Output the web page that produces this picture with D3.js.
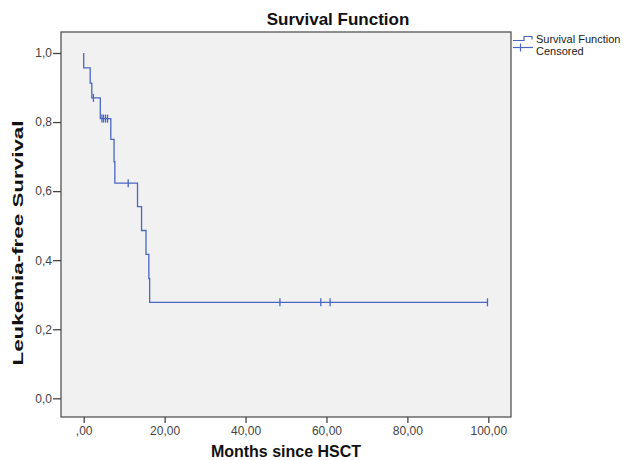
<!DOCTYPE html>
<html>
<head>
<meta charset="utf-8">
<script src="https://cdn.jsdelivr.net/npm/d3@7"></script>
<style>
  body { margin: 0; background: #fff; }
  svg { display: block; font-family: "Liberation Sans", Arial, sans-serif; }
</style>
</head>
<body>
<div id="chart"></div>
<script>
// step times (months) and survival after each step
var stepTimes    = [0, 0, 1.6, 2.0, 4.1, 6.7, 7.5, 7.7, 13.3, 14.3, 15.4, 16.1, 16.3];
var stepSurvival = [1.0, 0.957, 0.913, 0.870, 0.810, 0.750, 0.685, 0.623, 0.555, 0.486, 0.417, 0.347, 0.278];
var lastTime = 99.8;

// censored observations
var censorTimes = [2.4, 4.5, 4.9, 5.4, 5.9, 11.0, 48.5, 58.6, 60.9, 99.8];

var xTicks = [0, 20, 40, 60, 80, 100];
var yTicks = [0, 0.2, 0.4, 0.6, 0.8, 1.0];

var width = 625, height = 460;
var frame = {left: 61, right: 511, top: 32, bottom: 417};
var lineColor = "#4a66c4";

var svg = d3.select("#chart")
  .append("svg")
    .attr("width", width)
    .attr("height", height);

var x = d3.scaleLinear().domain([0, 100]).range([83.7, 488.3]);
var y = d3.scaleLinear().domain([0, 1]).range([398.3, 53]);

// plot background + frame
svg.append("rect")
  .attr("x", frame.left)
  .attr("y", frame.top)
  .attr("width", frame.right - frame.left)
  .attr("height", frame.bottom - frame.top)
  .attr("fill", "#f1f1f1")
  .attr("stroke", "#555")
  .attr("stroke-width", 1.3);

// axes
var fmtX = function(d) { return d === 0 ? ",00" : d + ",00"; };
var fmtY = function(d) { return d3.format(".1f")(d).replace(".", ","); };

var xAxis = svg.append("g")
  .attr("transform", "translate(0," + frame.bottom + ")")
  .call(d3.axisBottom(x).tickValues(xTicks).tickFormat(fmtX).tickSize(6).tickSizeOuter(0).tickPadding(3));
xAxis.select(".domain").remove();

var yAxis = svg.append("g")
  .attr("transform", "translate(" + frame.left + ",0)")
  .call(d3.axisLeft(y).tickValues(yTicks).tickFormat(fmtY).tickSize(8).tickSizeOuter(0).tickPadding(1));
yAxis.select(".domain").remove();

svg.selectAll(".tick line").attr("stroke", "#444").attr("stroke-width", 1.3);
svg.selectAll(".tick text")
  .attr("fill", "#444")
  .style("font-size", "12px")
  .style("font-family", "'Liberation Sans', Arial, sans-serif");

// survival curve
var pts = stepTimes.map(function(t, i) { return [t, stepSurvival[i]]; });
pts.push([lastTime, stepSurvival[stepSurvival.length - 1]]);

var line = d3.line()
  .x(function(d) { return x(d[0]); })
  .y(function(d) { return y(d[1]); })
  .curve(d3.curveStepAfter);

svg.append("path")
  .datum(pts)
  .attr("d", line)
  .attr("fill", "none")
  .attr("stroke", lineColor)
  .attr("stroke-width", 1.3);

// survival value at time t
function survAt(t) {
  var s = 1;
  stepTimes.forEach(function(st, i) { if (st <= t) s = stepSurvival[i]; });
  return s;
}

svg.selectAll(".censor")
  .data(censorTimes)
  .enter()
  .append("line")
    .attr("class", "censor")
    .attr("x1", function(d) { return x(d); })
    .attr("x2", function(d) { return x(d); })
    .attr("y1", function(d) { return y(survAt(d)) - 4; })
    .attr("y2", function(d) { return y(survAt(d)) + 4; })
    .attr("stroke", lineColor)
    .attr("stroke-width", 1.3);

// titles
svg.append("text")
  .attr("x", 338)
  .attr("y", 25)
  .attr("text-anchor", "middle")
  .style("font-size", "17px")
  .style("font-weight", "bold")
  .attr("fill", "#111")
  .text("Survival Function");

svg.append("text")
  .attr("x", 286)
  .attr("y", 457)
  .attr("text-anchor", "middle")
  .style("font-size", "16px")
  .style("font-weight", "bold")
  .attr("fill", "#111")
  .text("Months since HSCT");

svg.append("text")
  .attr("transform", "translate(23,243) rotate(-90)")
  .attr("text-anchor", "middle")
  .attr("textLength", 245)
  .attr("lengthAdjust", "spacingAndGlyphs")
  .style("font-size", "15px")
  .style("font-weight", "bold")
  .attr("fill", "#111")
  .text("Leukemia-free Survival");

// legend
var lg = svg.append("g");
lg.append("path")
  .attr("d", "M513,40.5 H524 V36.5 H532 V39.5")
  .attr("fill", "none")
  .attr("stroke", lineColor)
  .attr("stroke-width", 1.2);
lg.append("line")
  .attr("x1", 513).attr("x2", 533).attr("y1", 47.5).attr("y2", 47.5)
  .attr("stroke", lineColor).attr("stroke-width", 1.2);
lg.append("line")
  .attr("x1", 520.5).attr("x2", 520.5).attr("y1", 43.5).attr("y2", 51.5)
  .attr("stroke", lineColor).attr("stroke-width", 1.2);
lg.append("text")
  .attr("x", 536).attr("y", 43)
  .style("font-size", "11px").attr("fill", "#222")
  .text("Survival Function");
lg.append("text")
  .attr("x", 536).attr("y", 55)
  .style("font-size", "11px").attr("fill", "#222")
  .text("Censored");
</script>
</body>
</html>
